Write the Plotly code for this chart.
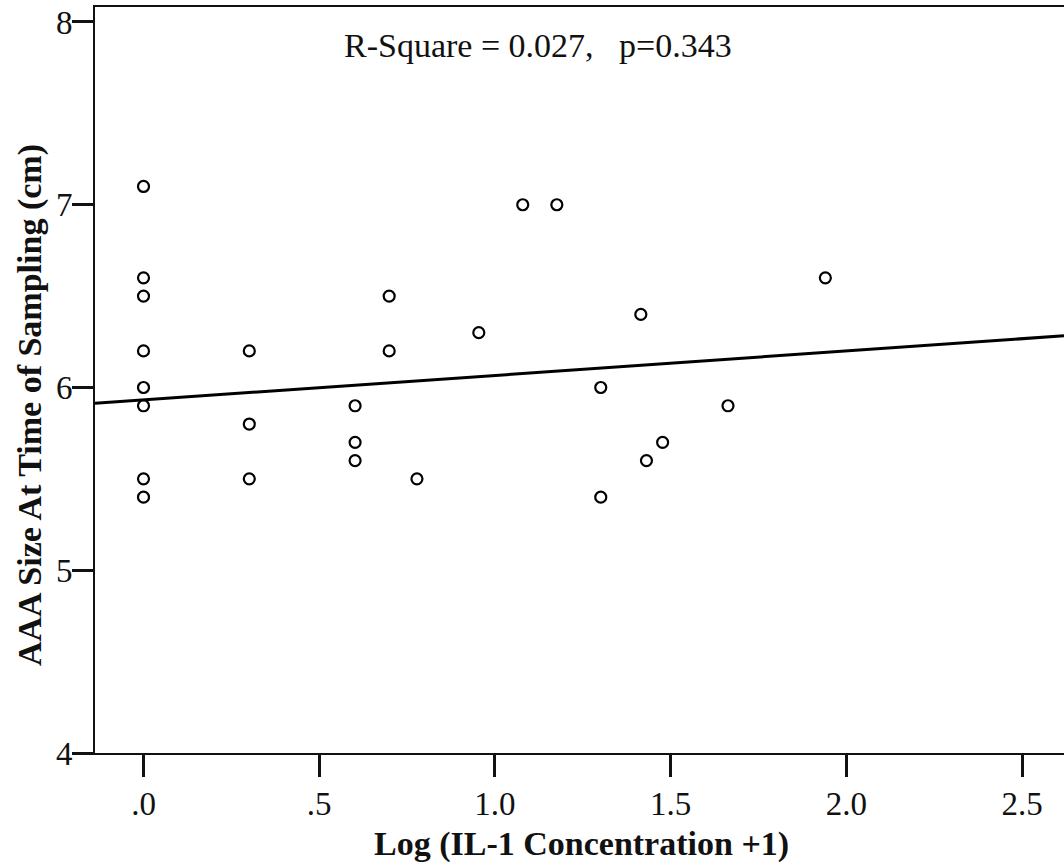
import numpy as np
import plotly.graph_objects as go

# Data
log_il1 = [0.0, 0.0, 0.0, 0.0, 0.0, 0.0, 0.0, 0.0,
           0.301, 0.301, 0.301,
           0.602, 0.602, 0.602,
           0.699, 0.699,
           0.778, 0.954, 1.079, 1.176,
           1.301, 1.301, 1.415, 1.431, 1.477, 1.663, 1.940]
aaa_size = [7.1, 6.6, 6.5, 6.2, 6.0, 5.9, 5.5, 5.4,
            6.2, 5.8, 5.5,
            5.9, 5.7, 5.6,
            6.5, 6.2,
            5.5, 6.3, 7.0, 7.0,
            6.0, 5.4, 6.4, 5.6, 5.7, 5.9, 6.6]

fit_intercept = 5.932
fit_slope = 0.134

x_tickvals = [0.0, 0.5, 1.0, 1.5, 2.0, 2.5]
x_ticktext = [".0", ".5", "1.0", "1.5", "2.0", "2.5"]
y_tickvals = [4, 5, 6, 7, 8]
y_ticktext = ["4", "5", "6", "7", "8"]

annotation_text = "R-Square = 0.027,   p=0.343"
x_title = "Log (IL-1 Concentration +1)"
y_title = "AAA Size At Time of Sampling (cm)"

x_range = [-0.138, 2.619]
y_range = [4.0, 8.082]

FONT = "Liberation Serif, Times New Roman, serif"
INK = "#111111"

fig = go.Figure()

line_x = np.array(x_range)
line_y = fit_intercept + fit_slope * line_x
fig.add_trace(go.Scatter(
    x=line_x, y=line_y, mode="lines",
    line=dict(color="black", width=3), showlegend=False, hoverinfo="skip"))

fig.add_trace(go.Scatter(
    x=log_il1, y=aaa_size, mode="markers",
    marker=dict(symbol="circle-open", size=11, color="black",
                line=dict(width=2.2, color="black")),
    showlegend=False))

fig.add_annotation(
    x=1.123, y=7.874, xref="x", yref="y", text=annotation_text,
    showarrow=False, xanchor="center", yanchor="middle",
    font=dict(family=FONT, size=34, color=INK))

fig.add_annotation(
    x=0.0, y=0.5, xref="paper", yref="paper", xshift=-65, yshift=-25,
    text="<b>" + y_title + "</b>", textangle=-90, showarrow=False,
    xanchor="center", yanchor="middle",
    font=dict(family=FONT, size=34, color=INK))

fig.add_annotation(
    x=0.5, y=0, xref="paper", yref="paper", yshift=-91, xshift=2,
    text="<b>" + x_title + "</b>", showarrow=False,
    xanchor="center", yanchor="middle",
    font=dict(family=FONT, size=34, color=INK))

fig.update_layout(
    width=1064, height=865,
    margin=dict(l=95, r=0, t=7, b=112),
    paper_bgcolor="white", plot_bgcolor="white",
    showlegend=False,
    font=dict(family=FONT, color=INK),
)

fig.update_xaxes(
    range=x_range, tickvals=x_tickvals, ticktext=x_ticktext,
    showgrid=False, zeroline=False,
    showline=True, linecolor=INK, linewidth=2, mirror=True,
    ticks="outside", ticklen=22, tickwidth=2.5, tickcolor=INK,
    ticklabelstandoff=-2,
    tickfont=dict(family=FONT, size=33, color=INK),
)
fig.update_yaxes(
    range=y_range, tickvals=y_tickvals, ticktext=y_ticktext,
    showgrid=False, zeroline=False,
    showline=True, linecolor=INK, linewidth=2, mirror=False,
    ticks="outside", ticklen=21, tickwidth=2.5, tickcolor=INK,
    ticklabelstandoff=-7,
    tickfont=dict(family=FONT, size=33, color=INK),
)

fig.write_html("out.html")
